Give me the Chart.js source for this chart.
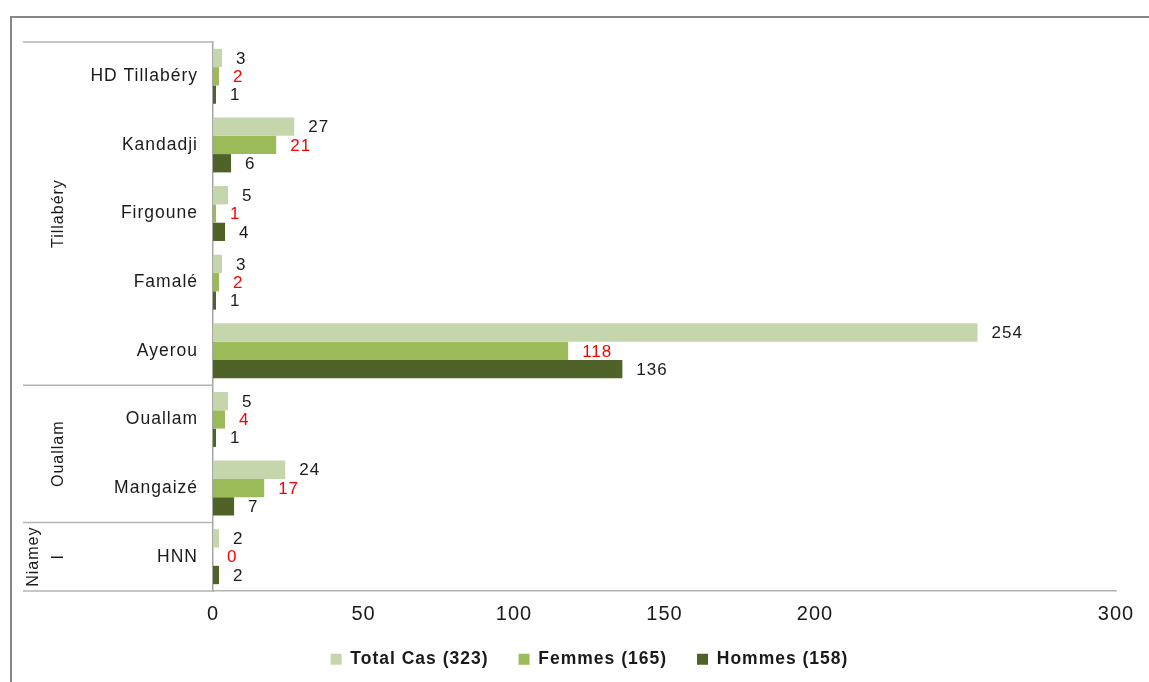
<!DOCTYPE html>
<html><head><meta charset="utf-8">
<script src="https://cdn.jsdelivr.net/npm/chart.js@4.4.1/dist/chart.umd.min.js"></script>
<style>html,body{margin:0;padding:0;background:#fff;overflow:hidden}#wrap{width:1149px;height:682px;position:relative}</style>
</head><body><div id="wrap"><canvas id="c"></canvas></div>
<script>
const categories = ['HD Tillabéry','Kandadji','Firgoune','Famalé','Ayerou','Ouallam','Mangaizé','HNN'];
const totalCas = [3,27,5,3,254,5,24,2];
const femmes = [2,21,1,2,118,4,17,0];
const hommes = [1,6,4,1,136,1,7,2];
const seriesNames = ['Total Cas (323)','Femmes (165)','Hommes (158)'];
const seriesColors = ['#C5D6AC','#9BBB59','#4F6228'];
const labelColors = ['#1a1a1a','#ff0000','#1a1a1a'];
const groupNames = [['Tillabéry'],['Ouallam'],['Niamey','I']];
const groupSizes = [5,2,1];
const xTickLabels = ['0','50','100','150','200','','300'];

const FONT = '"Liberation Sans", Arial, sans-serif';

function setSpacing(chart){ try{ chart.ctx.letterSpacing = '1px'; }catch(e){} }

const decor = {
  id:'decor',
  beforeUpdate(chart){ setSpacing(chart); },
  beforeLayout(chart){ setSpacing(chart); },
  beforeDraw(chart){
    const ctx = chart.ctx;
    ctx.save();
    ctx.fillStyle = '#fff';
    ctx.fillRect(0,0,chart.width,chart.height);
    ctx.strokeStyle = '#878787';
    ctx.lineWidth = 2;
    ctx.beginPath();
    ctx.moveTo(11, chart.height + 2);
    ctx.lineTo(11, 17);
    ctx.lineTo(chart.width + 2, 17);
    ctx.stroke();
    ctx.restore();
    setSpacing(chart);
  },
  afterDatasetsDraw(chart){
    const ctx = chart.ctx;
    ctx.save();
    setSpacing(chart);
    ctx.font = '17px ' + FONT;
    ctx.textBaseline = 'middle';
    ctx.textAlign = 'left';
    chart.data.datasets.forEach((ds, di) => {
      const meta = chart.getDatasetMeta(di);
      meta.data.forEach((bar, i) => {
        ctx.fillStyle = labelColors[di];
        ctx.fillText(String(ds.data[i]), bar.x + 14, bar.y + 1);
      });
    });
    ctx.restore();
  },
  afterDraw(chart){
    const ctx = chart.ctx;
    const ys = chart.scales.y;
    const area = chart.chartArea;
    ctx.save();
    setSpacing(chart);
    ctx.strokeStyle = '#b3b3b3';
    ctx.lineWidth = 1.5;
    const bounds = [area.top];
    let idx = 0;
    groupSizes.forEach(n => {
      idx += n;
      if (idx < categories.length) bounds.push((ys.getPixelForValue(idx - 1) + ys.getPixelForValue(idx)) / 2);
    });
    bounds.push(area.bottom);
    bounds.forEach(b => {
      ctx.beginPath();
      ctx.moveTo(23, b);
      ctx.lineTo(area.left, b);
      ctx.stroke();
    });
    ctx.fillStyle = '#1a1a1a';
    ctx.font = '16px ' + FONT;
    ctx.textAlign = 'center';
    ctx.textBaseline = 'middle';
    groupNames.forEach((lines, g) => {
      const cy = (bounds[g] + bounds[g + 1]) / 2;
      const n = lines.length;
      lines.forEach((t, j) => {
        const x = 59 - (n - 1 - j) * 25;
        ctx.save();
        ctx.translate(x, cy);
        ctx.rotate(-Math.PI / 2);
        ctx.fillText(t, 0, 0);
        ctx.restore();
      });
    });
    ctx.restore();
  }
};

new Chart(document.getElementById('c'), {
  type: 'bar',
  data: {
    labels: categories,
    datasets: [
      { label: seriesNames[0], data: totalCas, backgroundColor: seriesColors[0] },
      { label: seriesNames[1], data: femmes, backgroundColor: seriesColors[1] },
      { label: seriesNames[2], data: hommes, backgroundColor: seriesColors[2] }
    ]
  },
  options: {
    indexAxis: 'y',
    responsive: true,
    maintainAspectRatio: false,
    animation: false,
    devicePixelRatio: 1,
    categoryPercentage: 0.8,
    barPercentage: 1.0,
    layout: { padding: { top: 42, left: 63, right: 33, bottom: 4 } },
    scales: {
      x: {
        min: 0, max: 300,
        grid: { display: false, drawTicks: false },
        border: { display: true, color: '#b3b3b3', width: 1.5 },
        ticks: {
          stepSize: 50,
          padding: 11,
          color: '#1a1a1a',
          font: { family: FONT, size: 20 },
          maxRotation: 0,
          autoSkip: false,
          callback: (v, i) => xTickLabels[i]
        },
        afterFit: s => { s.height = 29.5; }
      },
      y: {
        grid: { display: false, drawTicks: false },
        border: { display: true, color: '#a6a6a6', width: 1.5 },
        ticks: {
          padding: 15,
          color: '#1a1a1a',
          font: { family: FONT, size: 17.5 },
          autoSkip: false
        },
        afterFit: s => { s.width = 150; }
      }
    },
    plugins: {
      legend: {
        position: 'bottom',
        onClick: null,
        labels: {
          boxWidth: 11,
          boxHeight: 11,
          padding: 30,
          color: '#1a1a1a',
          font: { family: FONT, size: 17.5, weight: 'bold' }
        }
      },
      tooltip: { enabled: false }
    }
  },
  plugins: [decor]
});
</script></body></html>
